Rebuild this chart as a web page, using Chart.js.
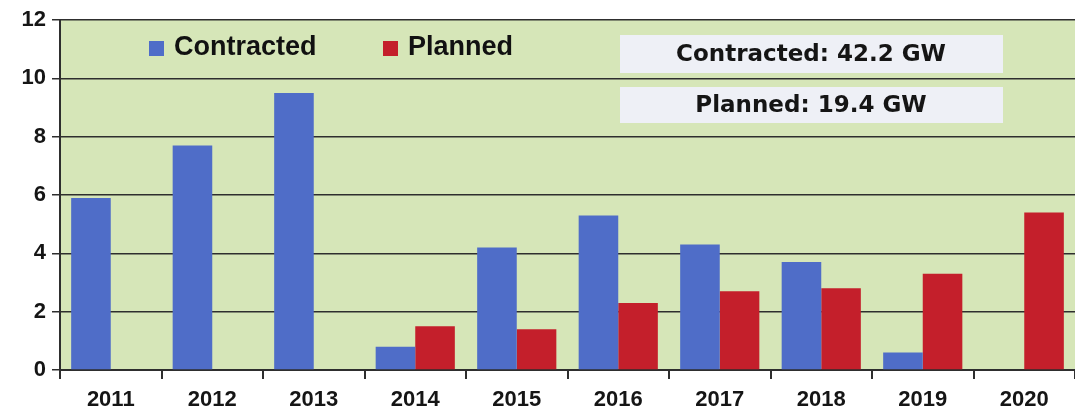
<!DOCTYPE html>
<html>
<head>
<meta charset="utf-8">
<script src="https://cdn.jsdelivr.net/npm/chart.js@4.4.1/dist/chart.umd.min.js"></script>
<style>
  html, body { margin: 0; padding: 0; background: #ffffff; }
  #wrap { width: 1075px; height: 412px; position: relative; }
</style>
</head>
<body>
<div id="wrap"><canvas id="barCanvas" width="1075" height="412"></canvas></div>
<script>
// capacity per year, GW
const years = ["2011", "2012", "2013", "2014", "2015", "2016", "2017", "2018", "2019", "2020"];
const contracted = [5.9, 7.7, 9.5, 0.8, 4.2, 5.3, 4.3, 3.7, 0.6, null];
const planned = [null, null, null, 1.5, 1.4, 2.3, 2.7, 2.8, 3.3, 5.4];
const yTicks = [0, 2, 4, 6, 8, 10, 12];
const totalLabels = ["Contracted: 42.2 GW", "Planned: 19.4 GW"];

const blue = "#4f6dc8";
const red = "#c41f2b";
const plotGreen = "#d6e6b8";
const lineDark = "#2e2e2e";

// green plot background
const plotBackground = {
    id: "plotBackground",
    beforeDraw(chart) {
        const a = chart.chartArea;
        const ctx = chart.ctx;
        ctx.save();
        ctx.fillStyle = plotGreen;
        ctx.fillRect(a.left, a.top, a.right - a.left, a.bottom - a.top);
        ctx.restore();
    }
};

// legend and total boxes drawn inside the plot
const overlay = {
    id: "overlay",
    afterDatasetsDraw(chart) {
        const ctx = chart.ctx;
        ctx.save();

        // legend
        ctx.font = "bold 27px 'Liberation Sans', Arial, sans-serif";
        ctx.textBaseline = "middle";
        ctx.textAlign = "left";
        const items = [
            { label: chart.data.datasets[0].label, color: blue, x: 149 },
            { label: chart.data.datasets[1].label, color: red, x: 383 }
        ];
        items.forEach(it => {
            ctx.fillStyle = it.color;
            ctx.fillRect(it.x, 41, 15, 15);
            ctx.fillStyle = "#111111";
            ctx.fillText(it.label, it.x + 25, 48);
        });

        // totals
        const boxes = [
            { y: 35, h: 38 },
            { y: 87, h: 36 }
        ];
        ctx.font = "bold 23px 'DejaVu Sans', Verdana, sans-serif";
        ctx.textAlign = "center";
        boxes.forEach((b, i) => {
            ctx.fillStyle = "#eef0f6";
            ctx.fillRect(620, b.y, 383, b.h);
            ctx.fillStyle = "#151515";
            ctx.fillText(totalLabels[i], 811, b.y + b.h / 2 + 1);
        });
        ctx.restore();
    }
};

const barCanvas = document.getElementById("barCanvas");

const barChart = new Chart(barCanvas, {
    type: "bar",
    data: {
        labels: years,
        datasets: [
            {
                label: "Contracted",
                data: contracted,
                backgroundColor: blue,
                categoryPercentage: 0.78,
                barPercentage: 1.0
            },
            {
                label: "Planned",
                data: planned,
                backgroundColor: red,
                categoryPercentage: 0.78,
                barPercentage: 1.0
            }
        ]
    },
    options: {
        responsive: false,
        animation: false,
        layout: { padding: { top: 20, right: 0, left: 0, bottom: 0 } },
        plugins: {
            legend: { display: false },
            tooltip: { enabled: false }
        },
        scales: {
            x: {
                grid: {
                    display: true,
                    drawOnChartArea: false,
                    drawTicks: true,
                    tickLength: 9,
                    color: lineDark,
                    lineWidth: 2
                },
                border: { display: true, color: lineDark, width: 2 },
                ticks: {
                    color: "#151515",
                    font: { family: "'Liberation Sans', Arial, sans-serif", size: 22, weight: "bold" },
                    padding: 8,
                    maxRotation: 0
                },
                afterFit(scale) { scale.height = 42; }
            },
            y: {
                min: 0,
                max: 12,
                afterBuildTicks(scale) {
                    scale.ticks = yTicks.map(v => ({ value: v }));
                },
                grid: {
                    color: lineDark,
                    lineWidth: 1.5,
                    tickLength: 8
                },
                border: { display: true, color: lineDark, width: 2 },
                ticks: {
                    color: "#151515",
                    font: { family: "'Liberation Sans', Arial, sans-serif", size: 22, weight: "bold" },
                    padding: 6
                },
                afterFit(scale) { scale.width = 60; }
            }
        }
    },
    plugins: [plotBackground, overlay]
});
</script>
</body>
</html>
